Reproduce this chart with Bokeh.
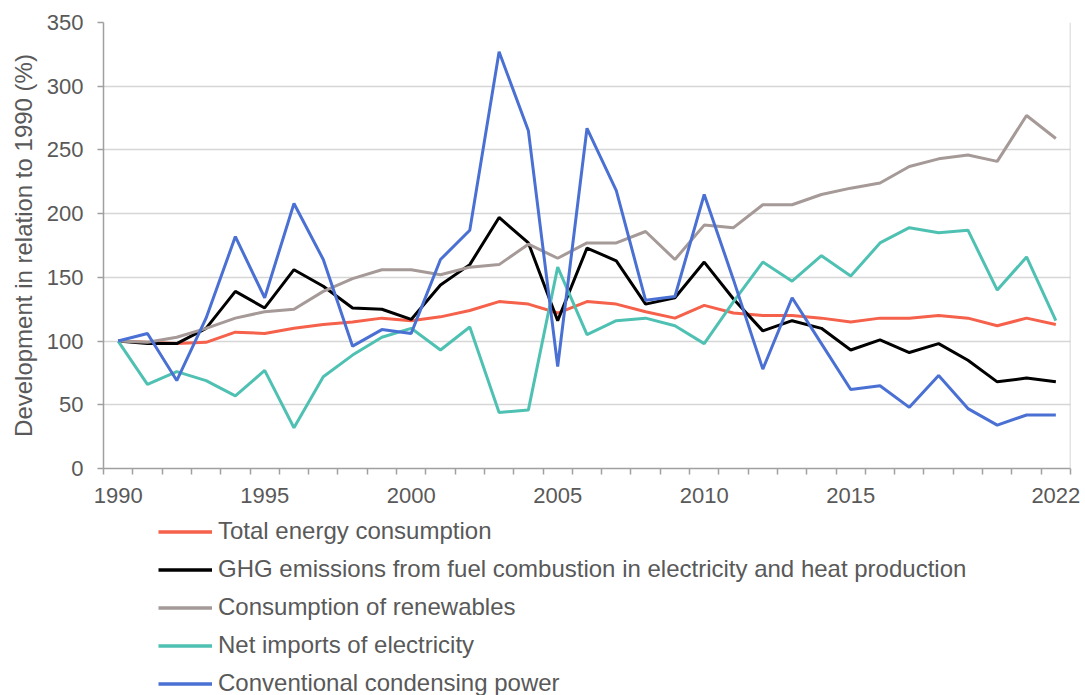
from bokeh.plotting import figure
from bokeh.layouts import column
from bokeh.models import Range1d, FixedTicker, Span, Legend, LegendItem
from bokeh.embed import file_html
from bokeh.resources import INLINE

years = list(range(1990, 2023))

total_energy = [100, 99, 98, 99, 107, 106, 110, 113, 115, 118, 116, 119, 124, 131, 129, 122,
                131, 129, 123, 118, 128, 122, 120, 120, 118, 115, 118, 118, 120, 118, 112, 118, 113]
ghg_emissions = [100, 98, 98, 110, 139, 126, 156, 143, 126, 125, 117, 144, 160, 197, 177, 116,
                 173, 163, 129, 134, 162, 133, 108, 116, 110, 93, 101, 91, 98, 85, 68, 71, 68]
renewables = [100, 99, 103, 110, 118, 123, 125, 139, 149, 156, 156, 152, 158, 160, 176, 165,
              177, 177, 186, 164, 191, 189, 207, 207, 215, 220, 224, 237, 243, 246, 241, 277, 259]
net_imports = [100, 66, 76, 69, 57, 77, 32, 72, 89, 103, 110, 93, 111, 44, 46, 158,
               105, 116, 118, 112, 98, 131, 162, 147, 167, 151, 177, 189, 185, 187, 140, 166, 116]
condensing = [100, 106, 69, 118, 182, 134, 208, 164, 96, 109, 106, 164, 187, 327, 265, 80,
              267, 218, 132, 135, 215, 148, 78, 134, 98, 62, 65, 48, 73, 47, 34, 42, 42]

series_names = [
    "Total energy consumption",
    "GHG emissions from fuel combustion in electricity and heat production",
    "Consumption of renewables",
    "Net imports of electricity",
    "Conventional condensing power",
]
series_values = [total_energy, ghg_emissions, renewables, net_imports, condensing]
series_colors = ["#F5614B", "#000000", "#A59A97", "#4FC1B3", "#4A70D3"]

x_label_years = [1990, 1995, 2000, 2005, 2010, 2015, 2022]
y_ticks = [0, 50, 100, 150, 200, 250, 300, 350]
y_title = "Development in relation to 1990 (%)"

FONT = "Liberation Sans"
TEXT = "#595959"

p = figure(width=1085, height=515, output_backend="svg", toolbar_location=None,
           x_range=Range1d(years[0] - 0.5, years[-1] + 0.5),
           y_range=Range1d(y_ticks[0], y_ticks[-1]),
           min_border_left=103, min_border_right=15, min_border_top=22,
           min_border_bottom=47)
p.outline_line_color = None
p.background_fill_color = "white"
p.border_fill_color = "white"

for name, vals, col in zip(series_names, series_values, series_colors):
    p.line(years, vals, line_color=col, line_width=3)

# axes
boundaries = [y - 0.5 for y in years] + [years[-1] + 0.5]
xa = p.xaxis[0]
xa.ticker = FixedTicker(ticks=x_label_years, minor_ticks=boundaries)
xa.major_tick_out = 0
xa.major_tick_in = 0
xa.minor_tick_out = 6
xa.minor_tick_in = 0
xa.minor_tick_line_color = "#A0A0A0"
xa.minor_tick_line_width = 1.5
xa.axis_line_color = "#A0A0A0"
xa.axis_line_width = 1.5
xa.major_label_text_font = FONT
xa.major_label_text_font_size = "22px"
xa.major_label_text_color = TEXT
xa.major_label_standoff = 13

ya = p.yaxis[0]
ya.ticker = FixedTicker(ticks=y_ticks)
ya.major_tick_out = 6
ya.major_tick_in = 0
ya.minor_tick_line_color = None
ya.major_tick_line_color = "#A0A0A0"
ya.major_tick_line_width = 1.5
ya.axis_line_color = "#A0A0A0"
ya.axis_line_width = 1.5
ya.major_label_text_font = FONT
ya.major_label_text_font_size = "22px"
ya.major_label_text_color = TEXT
ya.major_label_standoff = 14
ya.axis_label = y_title
ya.axis_label_text_font = FONT
ya.axis_label_text_font_size = "24px"
ya.axis_label_text_font_style = "normal"
ya.axis_label_text_color = TEXT
ya.axis_label_standoff = 7

p.xgrid.grid_line_color = None
p.ygrid.ticker = FixedTicker(ticks=y_ticks)
p.ygrid.grid_line_color = "#D6D6D6"
p.ygrid.grid_line_width = 1.5

p.add_layout(Span(location=years[-1] + 0.5, dimension="height",
                  line_color="#C8C8C8", line_width=1.5))

# legend panel (separate figure below the chart; frames are aligned by the column)
leg = figure(width=1085, height=180, output_backend="svg", toolbar_location=None,
             x_axis_type=None, y_axis_type=None,
             x_range=Range1d(0, 1), y_range=Range1d(0, 1),
             min_border_left=0, min_border_right=0, min_border_top=0,
             min_border_bottom=0)
leg.outline_line_color = None
leg.background_fill_color = "white"
leg.border_fill_color = "white"
items = []
nan = float("nan")
for name, col in zip(series_names, series_colors):
    r = leg.line(x=[nan], y=[nan], line_color=col, line_width=3.5)
    items.append(LegendItem(label=name, renderers=[r]))

lg = Legend(items=items, location=(55, -2), orientation="vertical",
            padding=0, margin=0, border_line_color=None, background_fill_alpha=0,
            glyph_width=54, glyph_height=27, label_height=27, spacing=10,
            label_standoff=6, label_text_font=FONT, label_text_font_size="24px",
            label_text_color=TEXT)
leg.add_layout(lg, "center")

layout = column(p, leg, spacing=0)
open("out.html", "w").write(file_html(layout, INLINE))
